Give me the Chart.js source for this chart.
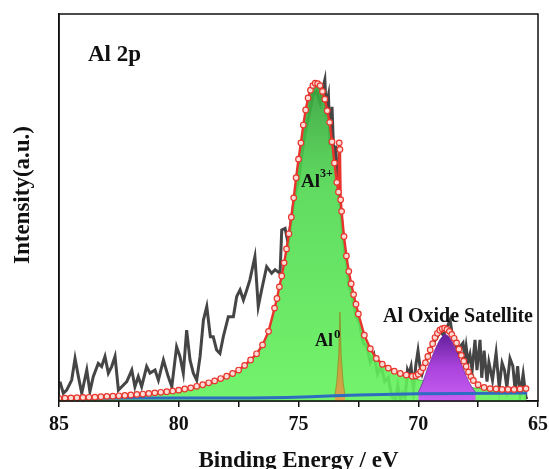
<!DOCTYPE html>
<html>
<head>
<meta charset="utf-8">
<script src="https://cdn.jsdelivr.net/npm/chart.js@4.4.0/dist/chart.umd.min.js"></script>
<style>
  html, body { margin: 0; padding: 0; background: #fff; }
  #wrap { width: 549px; height: 469px; }
</style>
</head>
<body>
<div id="wrap"><canvas id="xps" width="549" height="469"></canvas></div>
<script>
// Al 2p spectrum, binding energy in eV, intensity in arbitrary units (0-100)

// raw measured counts (grey)
const rawEnergy = [84.96,84.82,84.68,84.47,84.33,84.19,84.05,83.84,83.71,83.57,83.36,83.22,83.08,82.94,82.80,82.66,82.52,82.38,82.17,81.96,81.83,81.69,81.55,81.34,81.20,80.99,80.85,80.64,80.44,80.29,80.09,79.95,79.81,79.67,79.53,79.39,79.25,79.11,78.97,78.83,78.68,78.56,78.42,78.28,78.14,77.93,77.72,77.58,77.44,77.30,77.16,77.03,76.82,76.68,76.54,76.33,76.12,75.98,75.77,75.70,75.56,75.43,
  75.30,75.15,75.00,74.85,74.70,74.55,74.40,74.25,74.10,73.98,73.90,73.85,73.75,73.68,73.60,73.52,73.45,73.35,73.25,73.10,73.00,72.90,72.75,72.60,72.45,72.30,72.15,72.00,71.85,71.70,71.55,71.40,71.25,71.10,70.95,70.85,70.75,70.65,70.55,70.45,70.39,70.30,70.20,70.10,70.01,69.93,69.84,
  69.70,69.55,69.40,69.25,69.10,68.95,68.80,68.67,68.60,68.50,68.40,68.34,68.25,68.13,68.06,68.00,67.92,67.84,67.75,67.63,67.55,67.42,67.35,67.25,67.13,67.05,66.90,66.75,66.62,66.50,66.40,66.30,66.17,66.05,65.95,65.85,65.75,65.62,65.50,65.43];
const rawIntensity = [5.0,2.0,2.8,5.4,11.0,6.3,2.0,8.0,2.4,6.3,9.7,8.9,11.5,7.2,8.9,11.5,2.8,3.7,5.0,8.0,3.7,6.3,3.7,8.9,7.2,8.0,5.4,10.6,6.3,3.7,14.0,11.5,7.2,18.3,10.6,7.2,5.4,11.5,20.9,24.4,16.6,16.6,13.2,12.3,16.6,21.8,21.8,27.0,28.7,26.1,28.7,31.3,37.3,24.4,28.7,34.7,33.0,33.9,33.0,44.2,44.6,40.7,
  47,53,57,64,70,74,79,80,77,81,83,76,79,66,76,62,66,55,50,40,36,30,27,22,20,15,14,10,12,7,9,5,6,1,0.5,4,0.3,2,0.5,8,7,9,3,9.3,13,9,7,
  10,12,15,16,18,17,19,21,18,16,14,12.4,14,15,11,14,10,12,8,15.8,8,15.8,6,13,5,10,5.4,12.4,3.5,9.8,8,3.5,11,9,2.5,9,1.5,7,0.8,1];

// envelope of the fit (red circles)
const fitEnergy = [85,84.75,84.5,84.25,84,83.75,83.5,83.25,83,82.75,82.5,82.25,82,81.75,81.5,81.25,81,80.75,80.5,80.25,80,79.75,79.5,79.25,79,78.75,78.5,78.25,78,77.75,77.5,77.25,77,76.75,76.5,76.25,
  76.0,75.9,75.8,75.7,75.6,75.5,75.4,75.3,75.2,75.1,75.0,74.9,74.8,74.7,74.6,74.5,74.4,74.3,74.2,74.1,74.0,73.9,73.8,73.7,73.6,73.5,73.4,
  73.33,73.3,73.27,73.24,73.2,73.1,73.0,72.9,72.8,72.7,72.6,72.5,
  72.25,72.0,71.75,71.5,71.25,71.0,70.75,70.5,70.25,
  70.1,70.0,69.9,69.8,69.7,69.6,69.5,69.4,69.3,69.2,69.1,69.0,68.9,68.8,68.7,68.6,68.5,68.4,68.3,68.2,68.1,68.0,67.9,67.8,67.7,
  67.5,67.25,67.0,66.75,66.5,66.25,66.0,65.75,65.5];
const fitIntensity = [0.7,0.75,0.8,0.85,0.9,0.95,1.0,1.1,1.2,1.25,1.35,1.45,1.55,1.7,1.8,1.95,2.1,2.25,2.4,2.6,2.8,3.1,3.4,3.8,4.2,4.7,5.2,5.8,6.4,7.1,8.0,9.2,10.6,12.2,14.5,18,
  24,26.5,29.5,32.3,35.7,39.3,43.2,47.5,52.5,57.7,62.5,66.7,71.3,75.2,78.3,80.3,81.5,82.1,82,81.5,80,78,75,72,67,61.5,56.5,
  54,66.7,65,52,49,42.5,37.5,33.5,30.3,27.5,25,22.5,
  17,13.5,11,9.5,8.5,7.7,7.1,6.7,6.4,
  6.5,6.9,7.6,8.6,9.9,11.5,13.2,14.8,16.4,17.5,18.3,18.7,18.8,18.5,18,17.2,16.2,15,13.4,11.8,10.3,8.9,7.5,6.3,5.3,
  4.2,3.5,3.2,3.1,3.0,3.0,3.0,3.1,3.2];

// Al3+ component (green)
const al3Energy = [85,84.75,84.5,84.25,84,83.75,83.5,83.25,83,82.75,82.5,82.25,82,81.75,81.5,81.25,81,80.75,80.5,80.25,80,79.75,79.5,79.25,79,78.75,78.5,78.25,78,77.75,77.5,77.25,77,76.75,76.5,76.25,
  76.0,75.9,75.8,75.7,75.6,75.5,75.4,75.3,75.2,75.1,75.0,74.9,74.8,74.7,74.6,74.5,74.4,74.3,74.2,74.1,74.0,73.9,73.8,73.7,73.6,73.5,73.4,73.3,73.2,73.1,73.0,72.9,72.8,72.7,72.6,72.5,
  72.25,72.0,71.75,71.5,71.25,71.0,70.75,70.5,70.25,70.0,69.75,69.5,69.25,69.0,68.75,68.5,68.25,68.0,67.75,67.5,67.25,67.0,66.5,66.0,65.5];
const al3Intensity = [0.7,0.72,0.75,0.78,0.8,0.85,0.9,0.95,1.0,1.05,1.1,1.2,1.3,1.4,1.5,1.65,1.8,1.95,2.1,2.3,2.5,2.8,3.1,3.5,3.9,4.4,4.9,5.5,6.1,6.8,7.7,8.9,10.3,11.9,14.2,17.7,
  24,26.5,29.5,32.3,35.7,39.3,43.2,47.5,52.5,57.7,62.5,66.7,71.3,75.2,78.3,80.3,81.5,82.1,82,81.5,80,78,75,72,67,61.5,56.5,52,48.5,42.5,37.5,33.5,30.3,27.5,25,22.5,
  17,13.5,11,9.5,8.3,7.4,6.8,6.3,5.9,5.5,5.2,4.9,4.6,4.4,4.2,4.0,3.8,3.6,3.4,3.3,3.2,3.1,3.0,2.9,2.8];

// Al0 metallic component (narrow, olive)
const al0Energy = [73.49,73.40,73.32,73.27,73.22,73.14,73.05];
const al0Intensity = [1.0,5,12,23,12,5,1.0];

// oxide satellite component (purple)
const satEnergy = [70.0,69.9,69.8,69.7,69.6,69.5,69.4,69.3,69.2,69.1,69.0,68.9,68.8,68.7,68.6,68.5,68.4,68.3,68.2,68.1,68.0,67.9,67.8,67.7,67.6];
const satIntensity = [2.2,3.5,5,6.8,8.6,10.2,11.8,13.3,14.6,15.8,16.6,17.3,17.0,16.5,15.5,14.2,12.8,11.3,9.6,8,6.4,5.1,4,3,2.2];

// background (blue)
const bgEnergy = [85,80,77,75.5,74.5,73.5,72.5,71.5,70,68,65.45];
const bgIntensity = [0.7,0.75,0.8,0.9,1.1,1.35,1.55,1.7,1.85,1.95,2.05];

const xTicks = [85, 80, 75, 70, 65];

function pts(xs, ys) {
  return xs.map((x, i) => ({ x: x, y: ys[i] }));
}

// vertical gradient between two intensity levels
function grad(stops) {
  return function (context) {
    const chart = context.chart;
    const area = chart.chartArea;
    if (!area) return stops[stops.length - 1][1];
    const y = chart.scales.y;
    const g = chart.ctx.createLinearGradient(0, y.getPixelForValue(stops[0][0]), 0, y.getPixelForValue(0));
    const top = stops[0][0];
    stops.forEach(s => g.addColorStop(1 - s[0] / top, s[1]));
    return g;
  };
}

const serif = '"Liberation Serif", "Times New Roman", serif';

const labels = {
  id: 'labels',
  afterDraw(chart) {
    const { ctx, chartArea: a } = chart;
    ctx.save();
    ctx.strokeStyle = '#111';
    ctx.lineWidth = 1.5;
    ctx.strokeRect(a.left, a.top, a.right - a.left, a.bottom - a.top);

    ctx.fillStyle = '#111';
    ctx.textBaseline = 'alphabetic';
    ctx.textAlign = 'left';
    ctx.font = 'bold 23px ' + serif;
    ctx.fillText('Al 2p', 88, 61);

    ctx.font = 'bold 19px ' + serif;
    ctx.fillText('Al', 301, 187);
    ctx.font = 'bold 12px ' + serif;
    ctx.fillText('3+', 320, 177);

    ctx.font = 'bold 18px ' + serif;
    ctx.fillText('Al', 315, 346);
    ctx.font = 'bold 13px ' + serif;
    ctx.fillText('0', 334, 338);

    ctx.font = 'bold 20px ' + serif;
    ctx.fillText('Al Oxide Satellite', 383, 322);

    ctx.textAlign = 'center';
    ctx.font = 'bold 23px ' + serif;
    ctx.fillText('Binding Energy / eV', (a.left + a.right) / 2, 467);

    ctx.translate(23, 195);
    ctx.rotate(-Math.PI / 2);
    ctx.textBaseline = 'middle';
    ctx.fillText('Intensity(a.u.)', 0, 0);
    ctx.restore();
  }
};

new Chart(document.getElementById('xps'), {
  type: 'line',
  data: {
    datasets: [
      {
        label: 'Fit',
        data: pts(fitEnergy, fitIntensity),
        borderColor: '#e8342c',
        borderWidth: 2.4,
        pointRadius: 2.8,
        pointBorderWidth: 1.2,
        pointBorderColor: '#e8342c',
        pointBackgroundColor: '#fadcd6',
        fill: false,
        order: 0
      },
      {
        label: 'Background',
        data: pts(bgEnergy, bgIntensity),
        borderColor: '#2e6cc2',
        borderWidth: 3,
        pointRadius: 0,
        fill: false,
        order: 1
      },
      {
        label: 'Al Oxide Satellite',
        data: pts(satEnergy, satIntensity),
        borderColor: 'rgba(120,40,170,0.8)',
        borderWidth: 1,
        pointRadius: 0,
        backgroundColor: grad([[17.3, '#62209c'], [9, '#a842da'], [0, '#c95ff2']]),
        fill: 'origin',
        order: 2
      },
      {
        label: 'Al0',
        data: pts(al0Energy, al0Intensity),
        borderColor: 'rgba(150,140,40,0.8)',
        borderWidth: 1,
        pointRadius: 0,
        backgroundColor: grad([[23, '#8f9e30'], [10, '#c4a23e'], [0, '#dba24c']]),
        fill: 'origin',
        order: 3
      },
      {
        label: 'Al3+',
        data: pts(al3Energy, al3Intensity),
        borderColor: 'rgba(60,170,60,0.9)',
        borderWidth: 1,
        pointRadius: 0,
        backgroundColor: grad([[82, 'rgba(54,165,60,0.93)'], [55, 'rgba(80,215,80,0.9)'], [0, 'rgba(100,242,92,0.9)']]),
        fill: 'origin',
        order: 4
      },
      {
        label: 'Raw',
        data: pts(rawEnergy, rawIntensity),
        borderColor: '#454545',
        borderWidth: 3,
        pointRadius: 0,
        fill: false,
        order: 5
      }
    ]
  },
  options: {
    responsive: false,
    animation: false,
    devicePixelRatio: 1,
    layout: { padding: { top: 14, right: 11, left: 0, bottom: 0 } },
    plugins: {
      legend: { display: false },
      tooltip: { enabled: false }
    },
    scales: {
      x: {
        type: 'linear',
        min: 65,
        max: 85,
        reverse: true,
        afterFit(scale) {
          scale.height = 68;
          scale.paddingLeft = 0;
          scale.paddingRight = 0;
        },
        border: { display: true, color: '#111', width: 1.5 },
        grid: { display: true, drawOnChartArea: false, drawTicks: true, tickLength: 6, color: '#111', lineWidth: 1.5 },
        ticks: {
          stepSize: 2.5,
          autoSkip: false,
          maxRotation: 0,
          padding: 6,
          color: '#111',
          font: { family: serif, size: 20, weight: 'bold' },
          callback: v => xTicks.includes(v) ? String(v) : ''
        }
      },
      y: {
        min: 0,
        max: 100,
        afterFit(scale) { scale.width = 59; },
        border: { display: true, color: '#111', width: 1.5 },
        grid: { display: false },
        ticks: { display: false }
      }
    }
  },
  plugins: [labels]
});
</script>
</body>
</html>
